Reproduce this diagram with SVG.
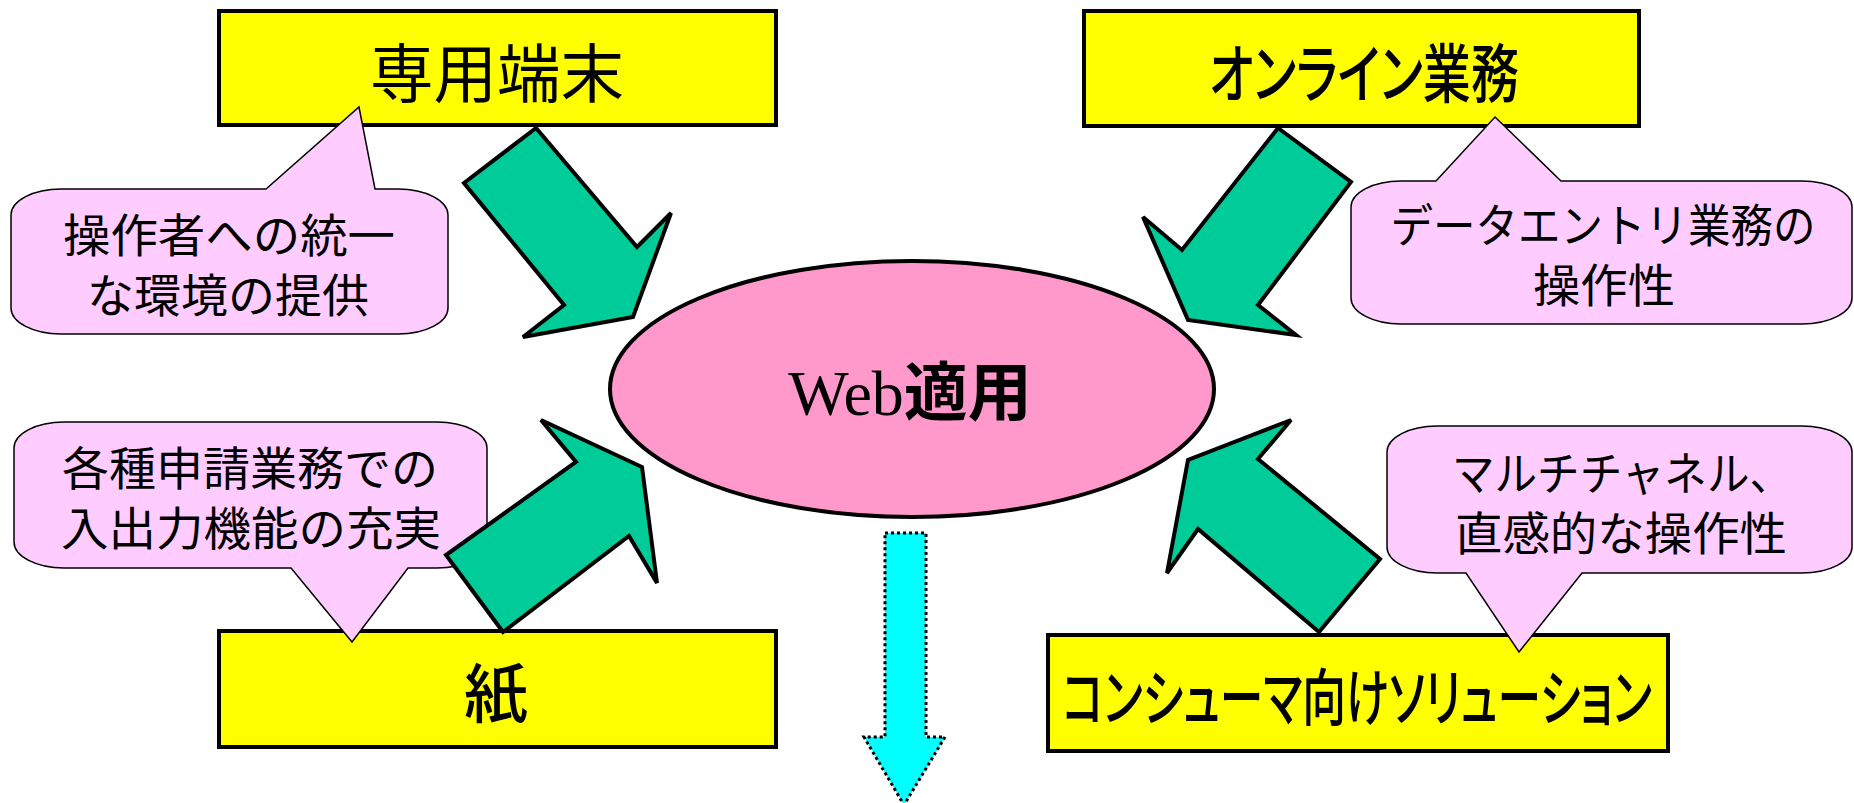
<svg xmlns="http://www.w3.org/2000/svg" width="1854" height="803" viewBox="0 0 1854 803">
<style>
.box{fill:#FFFF00;stroke:#000;stroke-width:4}
.call{fill:#FFCCFF;stroke:#000;stroke-width:1.5}
.arr{fill:#00CC99;stroke:#000;stroke-width:4;stroke-linejoin:miter}
.ell{fill:#FF99CC;stroke:#000;stroke-width:4}
.down{fill:#00FFFF;stroke:#000;stroke-width:3;stroke-dasharray:3 3}
.bt{font-family:"Noto Sans CJK JP","Liberation Sans",sans-serif;font-size:64px;fill:#000;text-anchor:middle}
.bb{font-weight:500;font-feature-settings:"palt"}
.ct{font-family:"Noto Sans CJK JP","Liberation Sans",sans-serif;font-size:46px;fill:#000;text-anchor:middle}
.wt{font-family:"Liberation Serif","Noto Sans CJK JP",serif;font-size:64px;fill:#000;text-anchor:middle}
</style>
<rect width="1854" height="803" fill="#fff"/>
<g id="box-senyo">
<rect class="box" x="219" y="11" width="557" height="114"/>
<text class="bt" x="497" y="97" textLength="254" lengthAdjust="spacingAndGlyphs">専用端末</text>
</g>
<g id="box-online">
<rect class="box" x="1084" y="11" width="555" height="115"/>
<text class="bt bb" x="1364" y="97" textLength="310" lengthAdjust="spacingAndGlyphs">オンライン業務</text>
</g>
<g id="box-kami">
<rect class="box" x="219" y="631" width="557" height="116"/>
<text class="bt bb" x="496" y="717">紙</text>
</g>
<g id="box-consumer">
<rect class="box" x="1048" y="635" width="620" height="116"/>
<text class="bt bb" transform="translate(1357,721) scale(0.8,1)" x="0" y="0" style="font-size:62px" textLength="737" lengthAdjust="spacingAndGlyphs">コンシューマ向けソリューション</text>
</g>
<g id="callout-1">
<path class="call" d="M61,189 L266,189 L359,107 L375,189 L398,189 A50,26 0 0 1 448,215 L448,308 A50,26 0 0 1 398,334 L61,334 A50,26 0 0 1 11,308 L11,215 A50,26 0 0 1 61,189 Z"/>
<text class="ct" x="229" y="252" textLength="332" lengthAdjust="spacingAndGlyphs">操作者への統一</text>
<text class="ct" x="228" y="312" textLength="282" lengthAdjust="spacingAndGlyphs">な環境の提供</text>
</g>
<g id="callout-2">
<path class="call" d="M1401,181 L1436,181 L1495,117 L1561,181 L1802,181 A50,26 0 0 1 1852,207 L1852,298 A50,26 0 0 1 1802,324 L1401,324 A50,26 0 0 1 1351,298 L1351,207 A50,26 0 0 1 1401,181 Z"/>
<text class="ct" x="1603" y="242" textLength="425" lengthAdjust="spacingAndGlyphs">データエントリ業務の</text>
<text class="ct" x="1604" y="302" textLength="142" lengthAdjust="spacingAndGlyphs">操作性</text>
</g>
<g id="callout-3">
<path class="call" d="M64,422 L437,422 A50,26 0 0 1 487,448 L487,542 A50,26 0 0 1 437,568 L408,568 L352,642 L291,568 L64,568 A50,26 0 0 1 14,542 L14,448 A50,26 0 0 1 64,422 Z"/>
<text class="ct" x="250" y="485" textLength="376" lengthAdjust="spacingAndGlyphs">各種申請業務での</text>
<text class="ct" x="251" y="545" textLength="380" lengthAdjust="spacingAndGlyphs">入出力機能の充実</text>
</g>
<g id="callout-4">
<path class="call" d="M1437,426 L1802,426 A50,26 0 0 1 1852,452 L1852,547 A50,26 0 0 1 1802,573 L1582,573 L1519,652 L1466,573 L1437,573 A50,26 0 0 1 1387,547 L1387,452 A50,26 0 0 1 1437,426 Z"/>
<text class="ct" x="1452" y="490" style="text-anchor:start" textLength="340" lengthAdjust="spacingAndGlyphs">マルチチャネル、</text>
<text class="ct" x="1621" y="550" textLength="332" lengthAdjust="spacingAndGlyphs">直感的な操作性</text>
</g>
<g id="web">
<ellipse class="ell" cx="912" cy="389" rx="302" ry="128"/>
<text class="wt" x="910" y="415">Web<tspan font-weight="bold">適用</tspan></text>
</g>
<g id="connectors">
<polygon class="arr" points="536,128 464,183 564,305 523,337 633,317 671,213 637,247"/>
<polygon class="arr" points="1278,128 1351,182 1258,305 1296,335 1188,320 1143,217 1182,250"/>
<polygon class="arr" points="503,632 446,555 576,462 541,420 642,467 657,583 629,536"/>
<polygon class="arr" points="1319,632 1380,559 1258,459 1291,420 1188,460 1167,573 1198,529"/>
<polygon class="down" points="885,533 926,533 926,737 945,737 904,805 864,737 885,737"/>
</g>
</svg>
